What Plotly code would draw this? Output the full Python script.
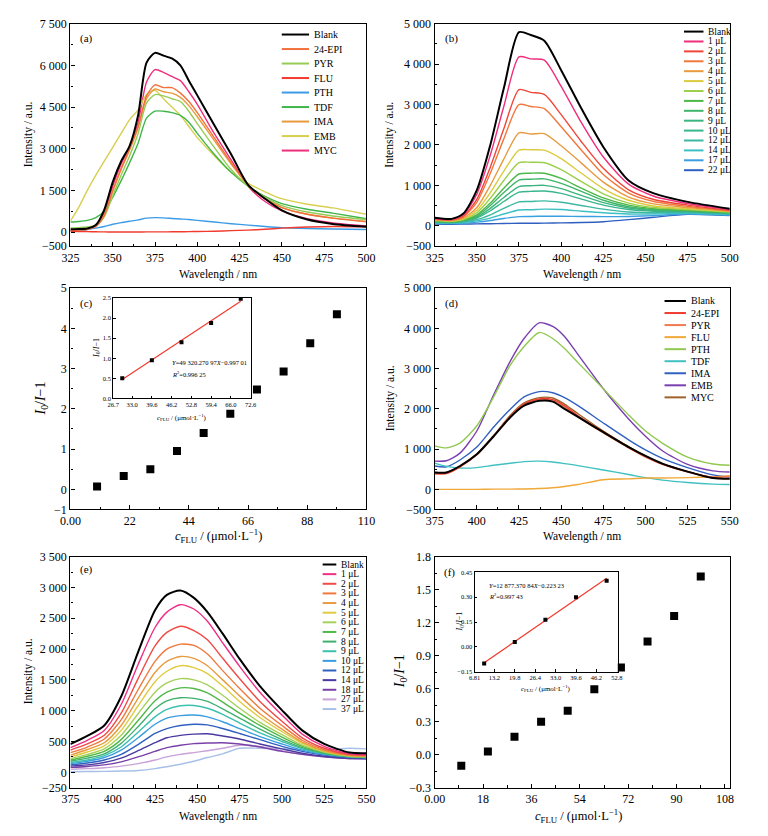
import plotly.graph_objects as go

W, H = 768, 836
SERIF = "Liberation Serif"

# ---------------- (a) selectivity, channel 1 ----------------
WL_A = [325, 330, 335, 340, 345, 350, 355, 360, 365, 370, 375, 380, 385, 390,
        395, 400, 410, 420, 430, 440, 450, 465, 480, 500]
NAMES_A = ["Blank", "24-EPI", "PYR", "FLU", "PTH", "TDF", "IMA", "EMB", "MYC"]
COLORS_A = ["#000000", "#f2703e", "#96cc55", "#f23a2e", "#3d9be6", "#3fb54a",
            "#e89a3e", "#d8cf4e", "#ee2f7c"]
SPEC_A = [
    [100, 110, 130, 250, 800, 1800, 2550, 3100, 4200, 6100, 6450, 6350, 6250, 6000, 5450, 4920, 3850, 2800, 1700, 1200, 780, 450, 290, 190],
    [60, 70, 100, 200, 600, 1500, 2300, 3000, 3800, 4900, 5300, 5200, 5200, 5000, 4700, 4300, 3400, 2500, 1700, 1200, 880, 640, 500, 370],
    [150, 160, 180, 240, 550, 1300, 2050, 2750, 3550, 4650, 4950, 4900, 4800, 4700, 4350, 3900, 3050, 2250, 1650, 1250, 950, 720, 580, 450],
    [30, 20, 15, 10, 5, 0, 0, 0, 0, 5, 5, 5, 10, 10, 15, 20, 30, 50, 70, 100, 140, 180, 200, 190],
    [40, 60, 90, 140, 200, 280, 340, 390, 440, 500, 520, 510, 490, 470, 450, 420, 360, 300, 250, 200, 160, 130, 110, 90],
    [360, 380, 420, 520, 750, 1250, 1850, 2500, 3200, 4100, 4350, 4350, 4300, 4200, 3950, 3550, 2800, 2150, 1650, 1280, 1020, 820, 680, 480],
    [60, 70, 100, 200, 600, 1450, 2250, 2950, 3750, 4800, 5150, 5050, 5000, 4850, 4550, 4150, 3300, 2450, 1700, 1200, 880, 640, 500, 380],
    [400, 900, 1500, 2050, 2550, 3050, 3550, 4050, 4400, 4950, 5100, 4800, 4500, 4200, 3800, 3400, 2750, 2150, 1750, 1450, 1200, 1000, 870, 640],
    [60, 70, 120, 240, 700, 1650, 2450, 3050, 3950, 5400, 5850, 5750, 5600, 5450, 5050, 4600, 3550, 2600, 1650, 1100, 760, 480, 330, 220],
]

# ---------------- (b) FLU titration, channel 1 ----------------
WL_B = [325, 335, 342, 350, 358, 366, 375, 382, 390, 400, 412, 425, 440, 455, 475, 500]
NAMES_B = ["Blank", "1 μL", "2 μL", "3 μL", "4 μL", "5 μL", "6 μL", "7 μL",
           "8 μL", "9 μL", "10 μL", "12 μL", "14 μL", "17 μL", "22 μL"]
COLORS_B = ["#000000", "#ee2f7c", "#f0463a", "#f0783c", "#e89a3e", "#dccb3e",
            "#9ccf4a", "#4cb848", "#3fb46a", "#3cb47e", "#3ab68e", "#3cb8a2",
            "#3cc0c4", "#3a9ee0", "#2f5fbf"]
SPEC_B = [
    [200, 170, 300, 880, 2000, 3400, 4790, 4720, 4580, 3850, 2900, 1950, 1120, 800, 590, 420],
    [180, 160, 270, 780, 1750, 2950, 4180, 4130, 4100, 3450, 2550, 1700, 1030, 730, 550, 400],
    [170, 150, 240, 650, 1450, 2400, 3370, 3300, 3250, 2750, 2080, 1420, 890, 650, 510, 380],
    [160, 140, 220, 580, 1300, 2150, 3000, 2950, 2900, 2450, 1870, 1270, 810, 600, 480, 370],
    [150, 130, 190, 450, 1000, 1650, 2300, 2270, 2280, 1980, 1550, 1080, 710, 540, 450, 360],
    [140, 120, 170, 380, 820, 1350, 1870, 1880, 1870, 1660, 1300, 920, 630, 490, 420, 350],
    [130, 110, 150, 320, 680, 1120, 1560, 1570, 1560, 1390, 1090, 790, 560, 450, 400, 340],
    [120, 100, 140, 270, 560, 930, 1280, 1300, 1300, 1170, 930, 690, 510, 420, 380, 330],
    [110, 95, 130, 240, 500, 820, 1130, 1150, 1160, 1050, 850, 630, 470, 400, 370, 320],
    [100, 90, 120, 210, 430, 700, 970, 990, 1000, 920, 750, 570, 440, 380, 360, 310],
    [95, 85, 110, 190, 370, 600, 830, 850, 860, 800, 660, 510, 400, 360, 350, 300],
    [85, 75, 95, 150, 270, 430, 590, 600, 615, 580, 500, 410, 340, 320, 330, 290],
    [70, 65, 80, 120, 190, 290, 390, 395, 410, 400, 360, 320, 290, 290, 310, 280],
    [60, 55, 60, 90, 130, 180, 225, 230, 235, 235, 230, 225, 230, 250, 290, 260],
    [40, 35, 40, 45, 50, 55, 60, 60, 65, 70, 80, 100, 150, 210, 280, 250],
]

# ---------------- (c) Stern-Volmer, channel 1 ----------------
C_FLU = [9.9, 19.8, 29.7, 39.6, 49.5, 59.4, 69.3, 79.2, 89.1, 99.0]
SV_C = [0.07, 0.33, 0.50, 0.95, 1.40, 1.88, 2.48, 2.93, 3.63, 4.35]
FIT_C = (49320.27097, -0.99701)   # Y = aX + b, X in mol/L

# ---------------- (d) selectivity, channel 2 ----------------
WL_D = [375, 382, 390, 400, 410, 420, 428, 437, 445, 452, 460, 475, 490, 500, 510, 525, 540, 550]
NAMES_D = ["Blank", "24-EPI", "PYR", "FLU", "PTH", "TDF", "IMA", "EMB", "MYC"]
COLORS_D = ["#000000", "#f03c30", "#f07a50", "#f0a838", "#90c850", "#40c0c0",
            "#3060c0", "#7a3fb0", "#a0622a"]
SPEC_D = [
    [420, 420, 580, 870, 1320, 1800, 2080, 2200, 2180, 2000, 1800, 1420, 1050, 830, 640, 440, 280, 260],
    [400, 400, 560, 860, 1320, 1820, 2120, 2250, 2230, 2080, 1830, 1430, 1050, 820, 630, 440, 290, 270],
    [380, 390, 560, 870, 1330, 1830, 2120, 2240, 2200, 2050, 1800, 1400, 1030, 800, 620, 430, 300, 330],
    [0, 0, 0, 0, 5, 5, 10, 20, 40, 70, 120, 240, 260, 280, 280, 290, 310, 330],
    [1080, 1030, 1150, 1580, 2300, 3100, 3550, 3900, 3750, 3500, 3150, 2500, 1850, 1450, 1150, 800, 630, 600],
    [650, 570, 530, 540, 600, 650, 690, 700, 680, 640, 590, 480, 370, 290, 230, 170, 130, 120],
    [580, 560, 730, 1050, 1550, 2000, 2300, 2430, 2400, 2280, 2080, 1650, 1230, 980, 770, 540, 360, 310],
    [700, 710, 900, 1450, 2350, 3200, 3750, 4140, 4050, 3800, 3350, 2500, 1750, 1320, 960, 620, 460, 430],
    [420, 420, 580, 880, 1340, 1850, 2150, 2280, 2270, 2120, 1880, 1450, 1060, 830, 640, 440, 280, 270],
]

# ---------------- (e) FLU titration, channel 2 ----------------
WL_E = [375, 385, 395, 405, 415, 425, 432, 440, 448, 456, 465, 475, 487, 500, 512, 525, 540, 550]
NAMES_E = ["Blank", "1 μL", "2 μL", "3 μL", "4 μL", "5 μL", "6 μL", "7 μL", "8 μL",
           "9 μL", "10 μL", "12 μL", "14 μL", "18 μL", "27 μL", "37 μL"]
COLORS_E = ["#000000", "#ee2f86", "#f04a46", "#f0783c", "#e89a3e", "#dfcb40",
            "#a6d05a", "#50b848", "#40b070", "#3cc0b0", "#3a9de0", "#2f60c0",
            "#4a3aa0", "#7a40a8", "#c8a2d8", "#a8c0e8"]
SPEC_E = [
    [457, 590, 760, 1230, 1950, 2630, 2880, 2950, 2830, 2600, 2250, 1840, 1400, 1010, 680, 460, 320, 310],
    [400, 520, 680, 1100, 1750, 2350, 2600, 2720, 2650, 2450, 2100, 1720, 1300, 930, 620, 420, 300, 290],
    [360, 460, 600, 960, 1520, 2050, 2270, 2370, 2300, 2150, 1850, 1520, 1150, 830, 560, 390, 290, 280],
    [320, 410, 540, 850, 1340, 1800, 2000, 2080, 2060, 1920, 1650, 1360, 1040, 760, 520, 370, 280, 270],
    [280, 370, 480, 760, 1200, 1620, 1800, 1880, 1850, 1730, 1500, 1240, 950, 700, 490, 350, 270, 260],
    [250, 330, 430, 680, 1080, 1470, 1640, 1730, 1700, 1600, 1400, 1150, 890, 660, 470, 340, 270, 260],
    [220, 290, 380, 600, 950, 1300, 1450, 1520, 1500, 1420, 1250, 1040, 810, 610, 440, 330, 260, 250],
    [200, 260, 340, 530, 840, 1160, 1300, 1370, 1360, 1290, 1140, 960, 760, 570, 420, 320, 260, 250],
    [180, 230, 300, 470, 740, 1030, 1160, 1210, 1200, 1150, 1030, 880, 700, 530, 400, 310, 250, 240],
    [160, 200, 270, 410, 650, 900, 1020, 1080, 1085, 1040, 940, 800, 640, 500, 380, 300, 250, 240],
    [140, 180, 240, 360, 560, 780, 880, 920, 930, 900, 820, 710, 580, 460, 360, 290, 250, 240],
    [120, 150, 200, 290, 450, 630, 710, 760, 780, 770, 710, 630, 530, 420, 340, 280, 240, 230],
    [100, 120, 160, 230, 350, 480, 560, 600, 620, 625, 590, 540, 460, 380, 310, 260, 230, 220],
    [80, 95, 120, 170, 250, 340, 400, 440, 465, 475, 480, 460, 410, 340, 290, 250, 220, 220],
    [50, 60, 75, 100, 140, 200, 250, 290, 320, 350, 390, 440, 420, 350, 290, 250, 230, 230],
    [10, 12, 15, 20, 30, 60, 90, 130, 180, 240, 300, 390, 390, 380, 370, 360, 390, 380],
]

# ---------------- (f) Stern-Volmer, channel 2 ----------------
SV_F = [-0.10, 0.03, 0.163, 0.30, 0.40, 0.594, 0.793, 1.028, 1.26, 1.62]
FIT_F = (12877.37084, -0.22323)

# pixel boxes of the plot areas (left, top, right, bottom)
BOX = {
    1: (61, 17, 365, 243), 2: (435, 17, 738, 243),
    3: (61, 286, 365, 511), 4: (435, 286, 738, 511),
    5: (61, 559, 365, 794), 6: (435, 559, 738, 794),
    7: (105, 296, 246, 398), 8: (476, 575, 623, 676),
}


def px(x):
    return x / W


def py(y):
    return 1 - y / H


def num(v, dec=0):
    s = f"{abs(v):,.{dec}f}".replace(",", " ")
    return "−" + s if v < 0 else s


fig = go.Figure()


def add_spectra(wl, rows, colors, n):
    for vals, col in list(zip(rows, colors))[::-1]:
        fig.add_trace(go.Scatter(
            x=wl, y=vals, mode="lines", showlegend=False, hoverinfo="skip",
            line=dict(color=col, width=2 if col == "#000000" else 1.4,
                      shape="spline", smoothing=0.7),
            xaxis=f"x{n}", yaxis=f"y{n}"))


add_spectra(WL_A, SPEC_A, COLORS_A, 1)
add_spectra(WL_B, SPEC_B, COLORS_B, 2)
add_spectra(WL_D, SPEC_D, COLORS_D, 4)
add_spectra(WL_E, SPEC_E, COLORS_E, 5)


def add_sv(xs, ys, n, size):
    fig.add_trace(go.Scatter(x=xs, y=ys, mode="markers", showlegend=False,
                             marker=dict(symbol="square", size=size, color="black"),
                             xaxis=f"x{n}", yaxis=f"y{n}"))


def add_fit(xs, fit, n):
    a, b = fit
    ends = [xs[0], xs[-1]]
    fig.add_trace(go.Scatter(x=ends, y=[a * e * 1e-6 + b for e in ends], mode="lines",
                             showlegend=False, line=dict(color="#f03a2e", width=1.2),
                             xaxis=f"x{n}", yaxis=f"y{n}"))


add_sv(C_FLU, SV_C, 3, 8)
add_sv(C_FLU, SV_F, 6, 8)
add_fit(C_FLU[2:7], FIT_C, 7)
add_sv(C_FLU[2:7], SV_C[2:7], 7, 4)
add_fit(C_FLU[0:5], FIT_F, 8)
add_sv(C_FLU[0:5], SV_F[0:5], 8, 4)


def axes(n, xr, xt, xl, yr, yt, yl, xminor=None, yminor=None, size=12, lw=1.4, tl=4):
    l, t, r, b = BOX[n]
    common = dict(showline=True, linecolor="black", linewidth=lw, mirror=True,
                  showgrid=False, zeroline=False, ticks="inside", ticklen=tl,
                  tickwidth=1, tickcolor="black", tickmode="array", fixedrange=True,
                  tickfont=dict(family=SERIF, size=size, color="black"))
    xa = dict(common, domain=[px(l), px(r)], range=xr, tickvals=xt, ticktext=xl,
              anchor=f"y{n}")
    ya = dict(common, domain=[py(b), py(t)], range=yr, tickvals=yt, ticktext=yl,
              anchor=f"x{n}")
    if xminor:
        xa["minor"] = dict(dtick=xminor, tick0=0, ticks="inside", ticklen=tl * 0.55,
                           tickcolor="black", tickwidth=1)
    if yminor:
        ya["minor"] = dict(dtick=yminor, tick0=0, ticks="inside", ticklen=tl * 0.55,
                           tickcolor="black", tickwidth=1)
    key = "" if n == 1 else str(n)
    fig.update_layout({f"xaxis{key}": xa, f"yaxis{key}": ya})


WL1 = list(range(325, 501, 25))
WL2 = list(range(375, 551, 25))
YA = [-500, 0, 1500, 3000, 4500, 6000, 7500]
YB = [-500, 0, 1000, 2000, 3000, 4000, 5000]
YE = [-250, 0, 500, 1000, 1500, 2000, 2500, 3000, 3500]
XC = [0, 22, 44, 66, 88, 110]
YC = [-0.5, 0, 1, 2, 3, 4, 5]          # bottom of the axis is printed as "−1"
YC_TEXT = ["−1", "0", "1", "2", "3", "4", "5"]
XF = [0, 18, 36, 54, 72, 90, 108]
YF = [-0.3, 0.0, 0.3, 0.6, 0.9, 1.2, 1.5, 1.8]
XCI = [26.7, 33.0, 39.6, 46.2, 52.8, 59.4, 66.0, 72.6]
YCI = [0.0, 0.5, 1.0, 1.5, 2.0, 2.5]
XFI = [6.81, 13.2, 19.8, 26.4, 33.0, 39.6, 46.2, 52.8]
YFI = [-0.15, 0.0, 0.15, 0.30, 0.45]

axes(1, [325, 500], WL1, [str(v) for v in WL1], [-500, 7500], YA, [num(v) for v in YA], 12.5, 750)
axes(2, [325, 500], WL1, [str(v) for v in WL1], [-500, 5000], YB, [num(v) for v in YB], 12.5, 500)
axes(3, [0, 110], XC, ["0.00"] + [str(v) for v in XC[1:]], [-0.5, 5], YC, YC_TEXT, 11, 0.5)
axes(4, [375, 550], WL2, [str(v) for v in WL2], [-500, 5000], YB, [num(v) for v in YB], 12.5, 500)
axes(5, [375, 550], WL2, [str(v) for v in WL2], [-250, 3500], YE, [num(v) for v in YE], 12.5, 250)
axes(6, [0, 109.8], XF, ["0.00"] + [str(v) for v in XF[1:]], [-0.3, 1.8], YF, [num(v, 1) for v in YF], 9, 0.15)
axes(7, [26.7, 72.6], XCI, [f"{v:.1f}" for v in XCI], [0, 2.5], YCI, [f"{v:.1f}" for v in YCI],
     size=6.5, lw=1, tl=2.5)
axes(8, [6.81, 53.1], XFI, [f"{v:g}" if v < 10 else f"{v:.1f}" for v in XFI], [-0.15, 0.45], YFI,
     [num(v, 2) for v in YFI], size=6.5, lw=1, tl=2.5)

ann = []


def text(x, y, s, size=11, anchor="center", angle=0):
    ann.append(dict(x=px(x), y=py(y), xref="paper", yref="paper", text=s, showarrow=False,
                    xanchor=anchor, yanchor="middle", textangle=angle,
                    font=dict(family=SERIF, size=size, color="black")))


# panel letters
for lab, (x, y) in zip("abcdef", [(78, 32), (452, 32), (78, 302), (452, 302), (78, 572), (450, 575)]):
    text(x, y, f"({lab})", 11, "center")

# axis titles
CFLU = "<i>c</i><sub>FLU</sub> / (μmol·L<sup>−1</sup>)"
IOI = "<i>I</i><sub>0</sub>/<i>I</i>−1"
for x, y in [(18, 130), (389, 130), (389, 398), (18, 676)]:
    text(x, y, "Intensity / a.u.", 11.5, angle=-90)
for x, y in [(213, 272), (586, 272), (586, 539), (213, 823)]:
    text(x, y, "Wavelength / nm", 11.5)
text(213, 538, CFLU, 12.5)
text(583, 823, CFLU, 12.5)
text(31, 398, IOI, 14, angle=-90)
text(400, 676, IOI, 14, angle=-90)

# inset titles and fit text
text(176, 417, CFLU, 7)
text(549, 693, CFLU, 7)
text(88, 347, IOI, 8, angle=-90)
text(461, 625, IOI, 8, angle=-90)
text(163, 362, "<i>Y</i>=49 320.270 97<i>X</i>−0.997 01", 6.5, "left")
text(163, 373, "<i>R</i><sup>2</sup>=0.996 25", 6.5, "left")
text(489, 588, "<i>Y</i>=12 877.370 84<i>X</i>−0.223 23", 6.5, "left")
text(489, 599, "<i>R</i><sup>2</sup>=0.997 43", 6.5, "left")

# hand-placed legends
shapes = []


def legend(names, colors, x0, x1, y0, dy, size):
    for i, (nm, col) in enumerate(zip(names, colors)):
        y = y0 + i * dy
        shapes.append(dict(type="line", xref="paper", yref="paper", x0=px(x0), x1=px(x1),
                           y0=py(y), y1=py(y), line=dict(color=col, width=2)))
        text(x1 + 3, y, nm, size, "left")


legend(NAMES_A, COLORS_A, 278, 306, 28, 14.75, 10)
legend(NAMES_B, COLORS_B, 691, 711, 25, 10.07, 9.5)
legend(NAMES_D, COLORS_D, 671, 693, 299, 12.25, 10)
legend(NAMES_E, COLORS_E, 320, 334, 567, 9.8, 9.5)

fig.update_layout(
    width=W, height=H, margin=dict(l=0, r=0, t=0, b=0),
    paper_bgcolor="white", plot_bgcolor="white", showlegend=False,
    font=dict(family=SERIF, color="black"),
    annotations=ann, shapes=shapes,
)

fig.write_html("out.html", config={"displayModeBar": False},
               post_script="document.body.style.margin='0px';document.body.style.overflow='hidden';")
